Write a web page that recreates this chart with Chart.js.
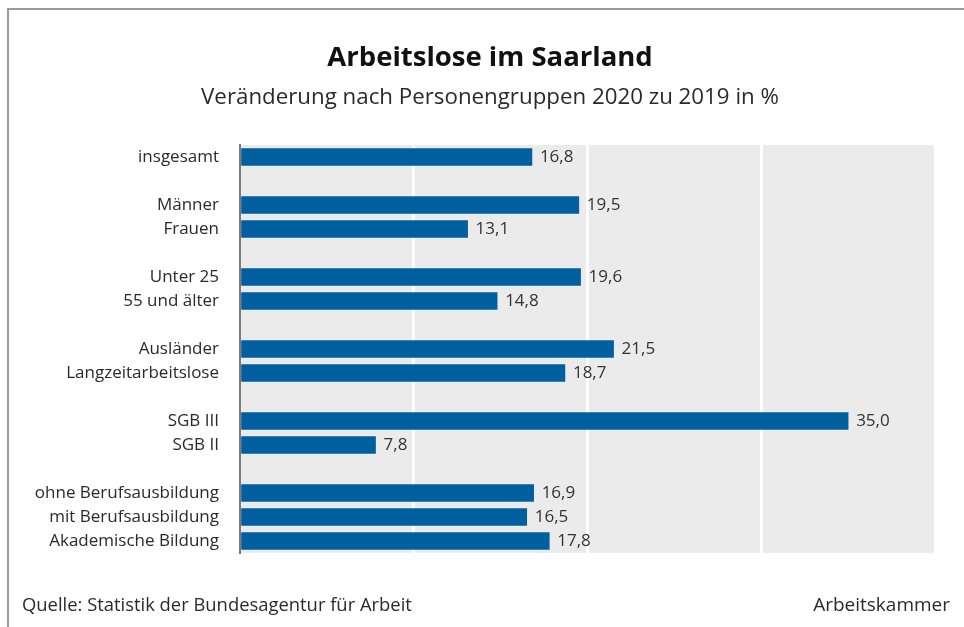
<!DOCTYPE html>
<html>
<head>
<meta charset="utf-8">
<script src="https://cdn.jsdelivr.net/npm/chart.js@4"></script>
<style>
  body { margin: 0; background: #fff; }
  #wrap { position: relative; width: 964px; height: 627px; }
  #frame { position: absolute; left: 7px; top: 8px; right: 0; bottom: 0; border-left: 2px solid #9b9b9b; border-top: 2px solid #9b9b9b; }
  #chart { position: absolute; left: 0; top: 0; }
</style>
</head>
<body>
<div id="wrap">
  <div id="frame"></div>
  <canvas id="chart" width="964" height="627"></canvas>
</div>
<script>
// categories (empty strings = gap rows between groups)
const categories = ['insgesamt', '', 'Männer', 'Frauen', '', 'Unter 25', '55 und älter', '',
    'Ausländer', 'Langzeitarbeitslose', '', 'SGB III', 'SGB II', '',
    'ohne Berufsausbildung', 'mit Berufsausbildung', 'Akademische Bildung'];
const changes = [16.8, null, 19.5, 13.1, null, 19.6, 14.8, null,
    21.5, 18.7, null, 35.0, 7.8, null,
    16.9, 16.5, 17.8];
const xTicks = [0, 10, 20, 30, 40];

const FONT = '"Open Sans", "Noto Sans", sans-serif';

//grey plot background, titles and footer texts
const decoPlugin = {
    id: 'deco',
    beforeDraw(chart) {
        const {ctx, chartArea} = chart;
        ctx.save();
        ctx.fillStyle = '#ebebeb';
        ctx.fillRect(chartArea.left, chartArea.top, chartArea.right - chartArea.left, chartArea.bottom - chartArea.top);
        ctx.restore();
    },
    afterDraw(chart) {
        const ctx = chart.ctx;
        ctx.save();
        ctx.textBaseline = 'middle';
        ctx.textAlign = 'center';
        ctx.fillStyle = '#111';
        ctx.font = 'bold 27.5px ' + FONT;
        ctx.fillText('Arbeitslose im Saarland', 490, 58);
        ctx.fillStyle = '#2a2a2a';
        ctx.font = '22.3px ' + FONT;
        ctx.fillText('Veränderung nach Personengruppen 2020 zu 2019 in %', 490, 98);

        ctx.font = '18.4px ' + FONT;
        ctx.textAlign = 'left';
        ctx.fillText('Quelle: Statistik der Bundesagentur für Arbeit', 22, 606);
        ctx.textAlign = 'right';
        ctx.font = '19px ' + FONT;
        ctx.fillText('Arbeitskammer', 950, 606);
        ctx.restore();
    }
};

//value labels at the end of each bar
const valuePlugin = {
    id: 'values',
    afterDatasetsDraw(chart) {
        const ctx = chart.ctx;
        const meta = chart.getDatasetMeta(0);
        ctx.save();
        ctx.font = '17px ' + FONT;
        ctx.fillStyle = '#333';
        ctx.textAlign = 'left';
        ctx.textBaseline = 'middle';
        meta.data.forEach(function(bar, i){
            const v = changes[i];
            if (v === null) return;
            ctx.fillText(v.toFixed(1).replace('.', ','), bar.x + 8, bar.y);
        });
        ctx.restore();
    }
};

const ctx = document.getElementById('chart');
const chart = new Chart(ctx, {
    type: 'bar',
    data: {
        labels: categories,
        datasets: [{
            data: changes,
            backgroundColor: '#005f9e',
            borderColor: '#005f9e',
            borderWidth: 0,
            barThickness: 17
        }]
    },
    options: {
        indexAxis: 'y',
        responsive: false,
        animation: false,
        layout: { padding: { left: 10, right: 29, top: 145, bottom: 74 } },
        scales: {
            x: {
                min: 0,
                max: 40,
                afterBuildTicks: function(scale){ scale.ticks = xTicks.map(v => ({value: v})); },
                ticks: { display: false },
                grid: {
                    drawTicks: false,
                    lineWidth: 3,
                    color: c => (c.tick && c.tick.value === 0) ? 'rgba(0,0,0,0)' : '#ffffff'
                },
                border: { display: false }
            },
            y: {
                afterFit: function(scale){ scale.width = 230; },
                ticks: {
                    padding: 21,
                    autoSkip: false,
                    color: '#2a2a2a',
                    font: { family: FONT, size: 17 }
                },
                grid: { display: false, drawTicks: false },
                border: { display: true, color: '#7a7a7a', width: 2 }
            }
        },
        plugins: {
            legend: { display: false },
            tooltip: { enabled: false }
        }
    },
    plugins: [decoPlugin, valuePlugin]
});
</script>
</body>
</html>
